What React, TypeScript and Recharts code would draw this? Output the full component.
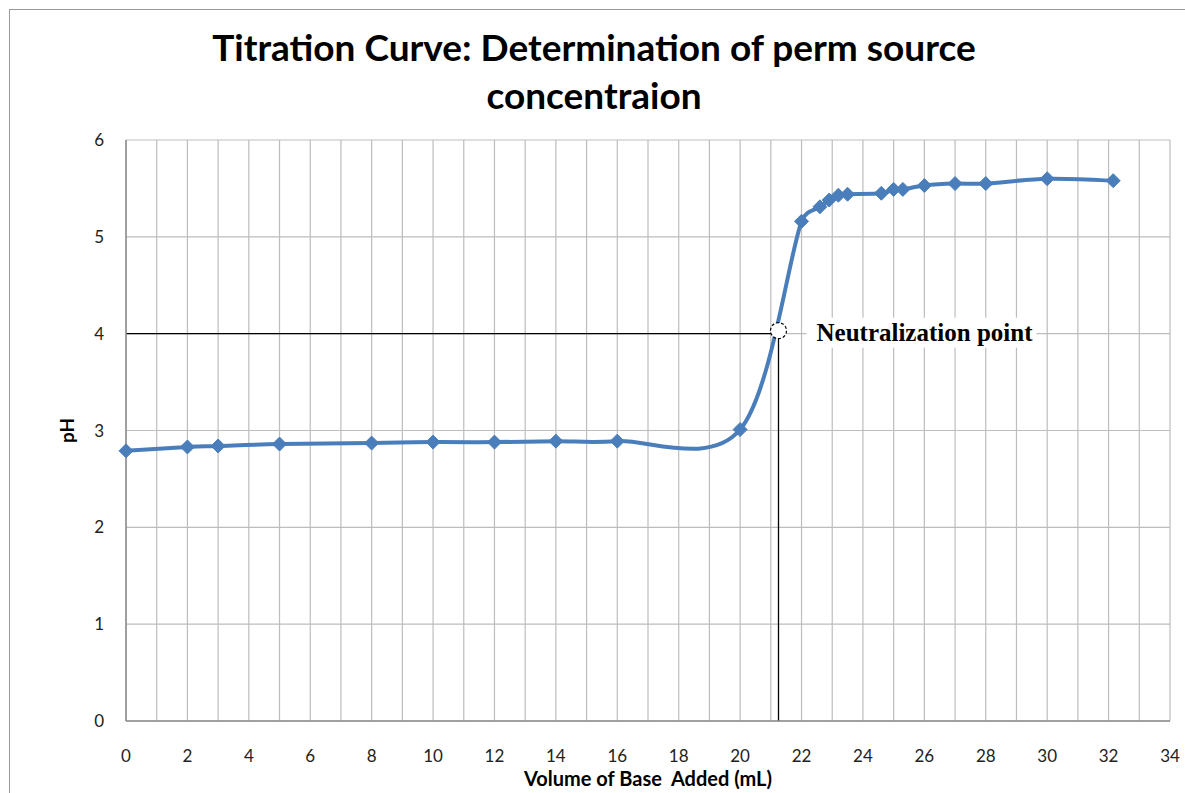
import { CartesianGrid, Line, LineChart, ReferenceDot, ReferenceLine, XAxis, YAxis } from "recharts";

const volumeMl = [0, 2, 3, 5, 8, 10, 12, 14, 16, 20, 22, 22.6, 22.9, 23.2, 23.5, 24.6, 25, 25.3, 26, 27, 28, 30, 32.15];
const phValues = [
  2.79, 2.83, 2.84, 2.86, 2.87, 2.88, 2.88, 2.89, 2.89, 3.01, 5.16, 5.31, 5.38, 5.43, 5.44, 5.45, 5.49, 5.49, 5.53, 5.55,
  5.55, 5.6, 5.58,
];
const xTicks = Array.from({ length: 35 }, (_, i) => i);
const yTicks = [0, 1, 2, 3, 4, 5, 6];
const neutralVolume = 21.25;
const neutralPh = 4;

const points = volumeMl.map((volume, i) => ({ volume, ph: phValues[i] }));

const BLUE = "#4a7ebb";
const FONT = "Lato, 'Open Sans', sans-serif";

// Excel-style smoothing: bezier with control points at 1/6 of neighbour deltas,
// capped at half the segment length so short segments don't loop
function excelSmooth(context: any) {
  let pts: number[][] = [];
  const ctrl = (from: number[], to: number[], a: number[], b: number[], sign: number) => {
    let dx = (b[0] - a[0]) / 6;
    let dy = (b[1] - a[1]) / 6;
    const len = Math.hypot(dx, dy);
    const limit = 0.5 * Math.hypot(to[0] - from[0], to[1] - from[1]);
    if (len > limit && len > 0) {
      dx *= limit / len;
      dy *= limit / len;
    }
    return [from[0] + sign * dx, from[1] + sign * dy];
  };
  return {
    areaStart() {},
    areaEnd() {},
    lineStart() {
      pts = [];
    },
    point(x: number, y: number) {
      pts.push([+x, +y]);
    },
    lineEnd() {
      const n = pts.length;
      if (!n) return;
      context.moveTo(pts[0][0], pts[0][1]);
      for (let i = 0; i < n - 1; i++) {
        const p0 = pts[Math.max(0, i - 1)];
        const p1 = pts[i];
        const p2 = pts[i + 1];
        const p3 = pts[Math.min(n - 1, i + 2)];
        const c1 = ctrl(p1, p2, p0, p2, 1);
        const c2 = ctrl(p2, p1, p1, p3, -1);
        context.bezierCurveTo(c1[0], c1[1], c2[0], c2[1], p2[0], p2[1]);
      }
    },
  };
}

function Diamond(props: any) {
  const { cx, cy, index } = props;
  if (cx == null || cy == null) return <g key={`d-${index}`} />;
  const s = 7;
  return (
    <polygon
      key={`d-${index}`}
      points={`${cx},${cy - s} ${cx + s},${cy} ${cx},${cy + s} ${cx - s},${cy}`}
      fill={BLUE}
      stroke={BLUE}
    />
  );
}

function PhLabel(props: any) {
  const vb = props.viewBox || {};
  const x = vb.x;
  const y = vb.y + vb.height / 2;
  return (
    <text
      x={x}
      y={y}
      transform={`rotate(-90, ${x}, ${y})`}
      textAnchor="middle"
      dominantBaseline="central"
      fontFamily={FONT}
      fontWeight="bold"
      fontSize={19}
      fill="#000"
    >
      pH
    </text>
  );
}

function VolumeLabel(props: any) {
  const vb = props.viewBox || {};
  return (
    <text
      x={vb.x + vb.width / 2}
      y={778}
      textAnchor="middle"
      dominantBaseline="central"
      fontFamily={FONT}
      fontWeight="bold"
      fontSize={20}
      fill="#000"
      style={{ whiteSpace: "pre" }}
    >
      {"Volume of Base  Added (mL)"}
    </text>
  );
}

function NeutralMark(props: any) {
  const { cx, cy } = props;
  return (
    <g>
      <circle cx={cx} cy={cy - 3} r={8} fill="#fff" stroke="#000" strokeWidth={1.2} strokeDasharray="3 2" />
      <rect x={cx + 28} y={cy - 16} width={230} height={30} fill="#fff" />
      <text
        x={cx + 38}
        y={cy - 1}
        dominantBaseline="central"
        fontFamily="'Liberation Serif', 'Times New Roman', serif"
        fontWeight="bold"
        fontSize={25}
        fill="#000"
      >
        Neutralization point
      </text>
    </g>
  );
}

export default function App() {
  return (
    <div style={{ position: "fixed", left: 0, top: 0, width: 1185, height: 793, background: "#fff" }}>
      <div
        style={{
          position: "absolute",
          left: 9,
          top: 9,
          width: 1176,
          height: 784,
          borderTop: "1px solid #9a9a9a",
          borderLeft: "1px solid #9a9a9a",
        }}
      />
      <div
        style={{
          position: "absolute",
          left: 0,
          top: 23,
          width: 1188,
          textAlign: "center",
          fontFamily: FONT,
          fontWeight: "bold",
          fontSize: 37,
          lineHeight: "48px",
          color: "#000",
        }}
      >
        Titration Curve: Determination of perm source
        <br />
        concentraion
      </div>
      <div style={{ position: "absolute", left: 0, top: 0 }}>
        <LineChart width={1185} height={793} data={points} margin={{ top: 140, right: 15, bottom: 27, left: 66 }}>
          <CartesianGrid stroke="#bdbdbd" strokeWidth={1.2} />
          <XAxis
            dataKey="volume"
            type="number"
            domain={[0, 34]}
            ticks={xTicks}
            interval={0}
            tickFormatter={(v: number) => (v % 2 === 0 ? String(v) : "")}
            tickLine={false}
            tickSize={0}
            tickMargin={29}
            height={45}
            axisLine={{ stroke: "#8c8c8c", strokeWidth: 1.5 }}
            tick={{ fontFamily: FONT, fontSize: 17, fill: "#222" }}
            label={<VolumeLabel />}
          />
          <YAxis
            type="number"
            domain={[0, 6]}
            ticks={yTicks}
            interval={0}
            tickLine={false}
            tickSize={0}
            tickMargin={22}
            width={60}
            axisLine={{ stroke: "#8c8c8c", strokeWidth: 1.5 }}
            tick={{ fontFamily: FONT, fontSize: 17, fill: "#222" }}
            label={<PhLabel />}
          />
          <Line
            dataKey="ph"
            type={excelSmooth as any}
            stroke={BLUE}
            strokeWidth={4}
            dot={<Diamond />}
            activeDot={false}
            isAnimationActive={false}
          />
          <ReferenceLine
            segment={[
              { x: 0, y: neutralPh },
              { x: neutralVolume, y: neutralPh },
            ]}
            stroke="#000"
            strokeWidth={1.3}
          />
          <ReferenceLine
            segment={[
              { x: neutralVolume, y: neutralPh },
              { x: neutralVolume, y: 0 },
            ]}
            stroke="#000"
            strokeWidth={1.3}
          />
          <ReferenceDot x={neutralVolume} y={neutralPh} r={8} shape={<NeutralMark />} />
        </LineChart>
      </div>
    </div>
  );
}
